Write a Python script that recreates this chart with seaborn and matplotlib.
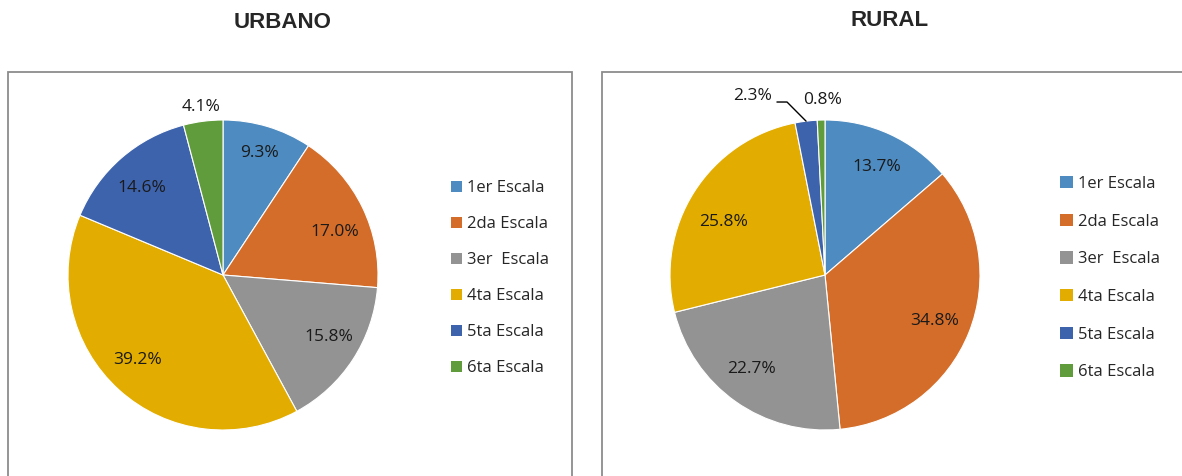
import matplotlib
matplotlib.use("Agg")
import matplotlib.pyplot as plt
from matplotlib.patches import Rectangle, Patch
import numpy as np
import seaborn as sns

# ---- data ----
categories = ["1er Escala", "2da Escala", "3er  Escala", "4ta Escala", "5ta Escala", "6ta Escala"]
urbano = [9.3, 17.0, 15.8, 39.2, 14.6, 4.1]
rural = [13.7, 34.8, 22.7, 25.8, 2.3, 0.8]
titles = ["URBANO", "RURAL"]

# ---- style ----
colors = ["#4E8BC0", "#D46D29", "#939393", "#E2AC00", "#3E63AD", "#609B3C"]
sns.set_theme(style="white")
plt.rcParams["font.family"] = ["Open Sans", "DejaVu Sans"]
title_font = ["Liberation Sans Narrow", "Liberation Sans", "DejaVu Sans"]
FS = 12
LFS = 12.5

W, H = 1182, 476
fig = plt.figure(figsize=(W / 100, H / 100), dpi=100)
fig.patch.set_facecolor("white")

def fx(px):
    return px / W

def fy(py):
    return 1 - py / H

# panel boxes
for x0, x1 in [(8, 572), (602, 1190)]:
    fig.patches.append(Rectangle((fx(x0), fy(490)), fx(x1 - x0), (490 - 72) / H,
                                 transform=fig.transFigure, fill=False,
                                 edgecolor="#8C8C8C", lw=1.3))

fig.text(fx(283), fy(22), titles[0], ha="center", va="center", fontsize=16,
         fontweight="bold", family=title_font)
fig.text(fx(890), fy(20), titles[1], ha="center", va="center", fontsize=16,
         fontweight="bold", family=title_font)

R = 155
# label placement (radius factor, angle offset in degrees) per slice
u_lab = [(0.82, 0), (0.77, -5), (0.79, 2.5), (0.78, -3), (0.77, 2), (1.09, 0)]
r_lab = [(0.77, -1), (0.77, -1), (0.77, -2.5), (0.74, 5), None, (1.13, -0.7)]

def draw_pie(cx, vals, labpos):
    ax = fig.add_axes([fx(cx - R), fy(275 + R), fx(2 * R), 2 * R / H])
    wedges, _ = ax.pie(vals, colors=colors, startangle=90, counterclock=False,
                       radius=1, wedgeprops=dict(linewidth=0.8, edgecolor="white"))
    ax.set_xlim(-1, 1)
    ax.set_ylim(-1, 1)
    ax.set_aspect("equal")
    ax.axis("off")
    for i, w in enumerate(wedges):
        mid = (w.theta1 + w.theta2) / 2
        if labpos[i] is None:
            # leader-line label
            a = np.deg2rad(mid)
            ex, ey = np.cos(a), np.sin(a)
            elbow = (-0.245, 1.116)
            tstart = (-0.31, 1.116)
            ax.plot([ex, elbow[0], tstart[0]], [ey, elbow[1], tstart[1]], color="black",
                    lw=1.0, clip_on=False)
            ax.text(-0.342, 1.155, f"{vals[i]:.1f}%", ha="right", va="center",
                    fontsize=LFS, color="#1a1a1a")
            continue
        rf, off = labpos[i]
        a = np.deg2rad(mid + off)
        ax.text(rf * np.cos(a), rf * np.sin(a), f"{vals[i]:.1f}%", ha="center",
                va="center", fontsize=LFS, color="#1a1a1a")
    return ax

draw_pie(223, urbano, u_lab)
draw_pie(825, rural, r_lab)

handles = [Patch(facecolor=c, edgecolor="none") for c in colors]
fig.legend(handles, categories, loc="upper left", bbox_to_anchor=(fx(451), fy(180)),
           frameon=False, fontsize=FS, handlelength=0.66, handleheight=0.66,
           handletextpad=0.3, labelspacing=1.2, borderpad=0, borderaxespad=0)
fig.legend(handles, categories, loc="upper left", bbox_to_anchor=(fx(1060), fy(176)),
           frameon=False, fontsize=FS, handlelength=0.76, handleheight=0.76,
           handletextpad=0.3, labelspacing=1.3, borderpad=0, borderaxespad=0)

fig.savefig("out.png", dpi=100, facecolor="white")
